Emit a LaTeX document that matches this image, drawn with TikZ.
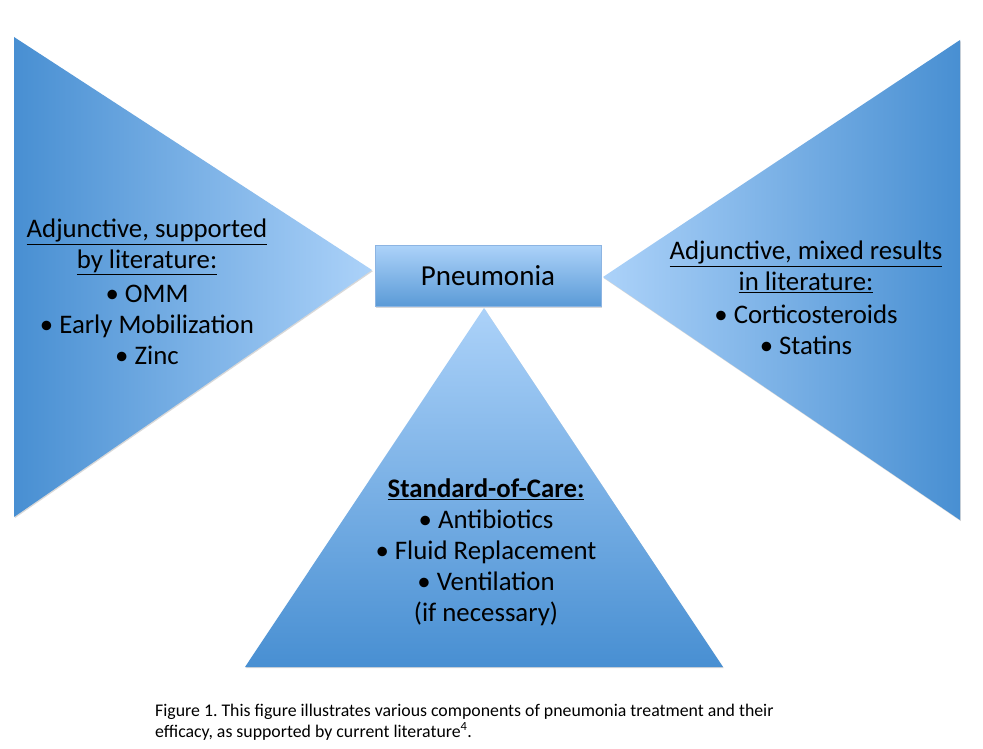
\documentclass[tikz,border=0pt]{standalone}
\usepackage{fontspec}
\setmainfont{Carlito}
\usetikzlibrary{positioning,shadows}
\definecolor{bluedark}{RGB}{72,143,210}
\definecolor{bluelight}{RGB}{172,210,249}
\definecolor{boxline}{RGB}{140,180,226}

\begin{document}
\begin{tikzpicture}[x=1pt, y=-1pt,
  softshadow/.style={drop shadow={shadow xshift=0.8pt, shadow yshift=-1.2pt, opacity=0.3}},
  blocktext/.style={align=center, inner sep=0pt, font=\fontsize{26.8}{31}\selectfont},
  centerbox/.style={draw=boxline, line width=0.6pt, top color=bluelight, bottom color=bluedark!90,
    minimum width=226pt, minimum height=61pt, inner sep=0pt, font=\fontsize{29}{32}\selectfont, softshadow},
  caption/.style={align=left, anchor=north west, inner sep=0pt, font=\fontsize{17.8}{20.5}\selectfont}
]
\useasboundingbox[fill=white] (0,0) rectangle (983,749);

% corners of the three triangles
\coordinate (lt) at (14,37);
\coordinate (lb) at (14,517);
\coordinate (lp) at (372,270);
\coordinate (rt) at (960,40);
\coordinate (rb) at (960,520);
\coordinate (rp) at (603,277);
\coordinate (bp) at (484,308);
\coordinate (bl) at (245,667);
\coordinate (br) at (723,667);

% triangles
\shade[left color=bluedark, right color=bluelight, softshadow] (lt) -- (lp) -- (lb) -- cycle;
\shade[left color=bluelight, right color=bluedark, softshadow] (rt) -- (rb) -- (rp) -- cycle;
\shade[top color=bluelight, bottom color=bluedark, softshadow] (bp) -- (br) -- (bl) -- cycle;

% centre box
\node[centerbox] (pneu) at (488,276) {Pneumonia};

% texts
\node[blocktext] (supported) at (147,292) {\underline{Adjunctive, supported}\\
  \underline{by literature:}\\[3pt]
  \textbullet{} OMM\\
  \textbullet{} Early Mobilization\\
  \textbullet{} Zinc};

\node[blocktext] (mixed) at (806,298) {\underline{Adjunctive, mixed results}\\
  \underline{in literature:}\\[2pt]
  \textbullet{} Corticosteroids\\
  \textbullet{} Statins};

\node[blocktext] (care) at (486,552) {\textbf{\underline{Standard-of-Care:}}\\
  \textbullet{} Antibiotics\\
  \textbullet{} Fluid Replacement\\
  \textbullet{} Ventilation\\
  (if necessary)};

% caption
\node[caption] (fig) at (155,704) {\frenchspacing Figure 1. This figure illustrates various components of pneumonia treatment and their\\
  efficacy, as supported by current literature\textsuperscript{4}.};
\end{tikzpicture}
\end{document}
